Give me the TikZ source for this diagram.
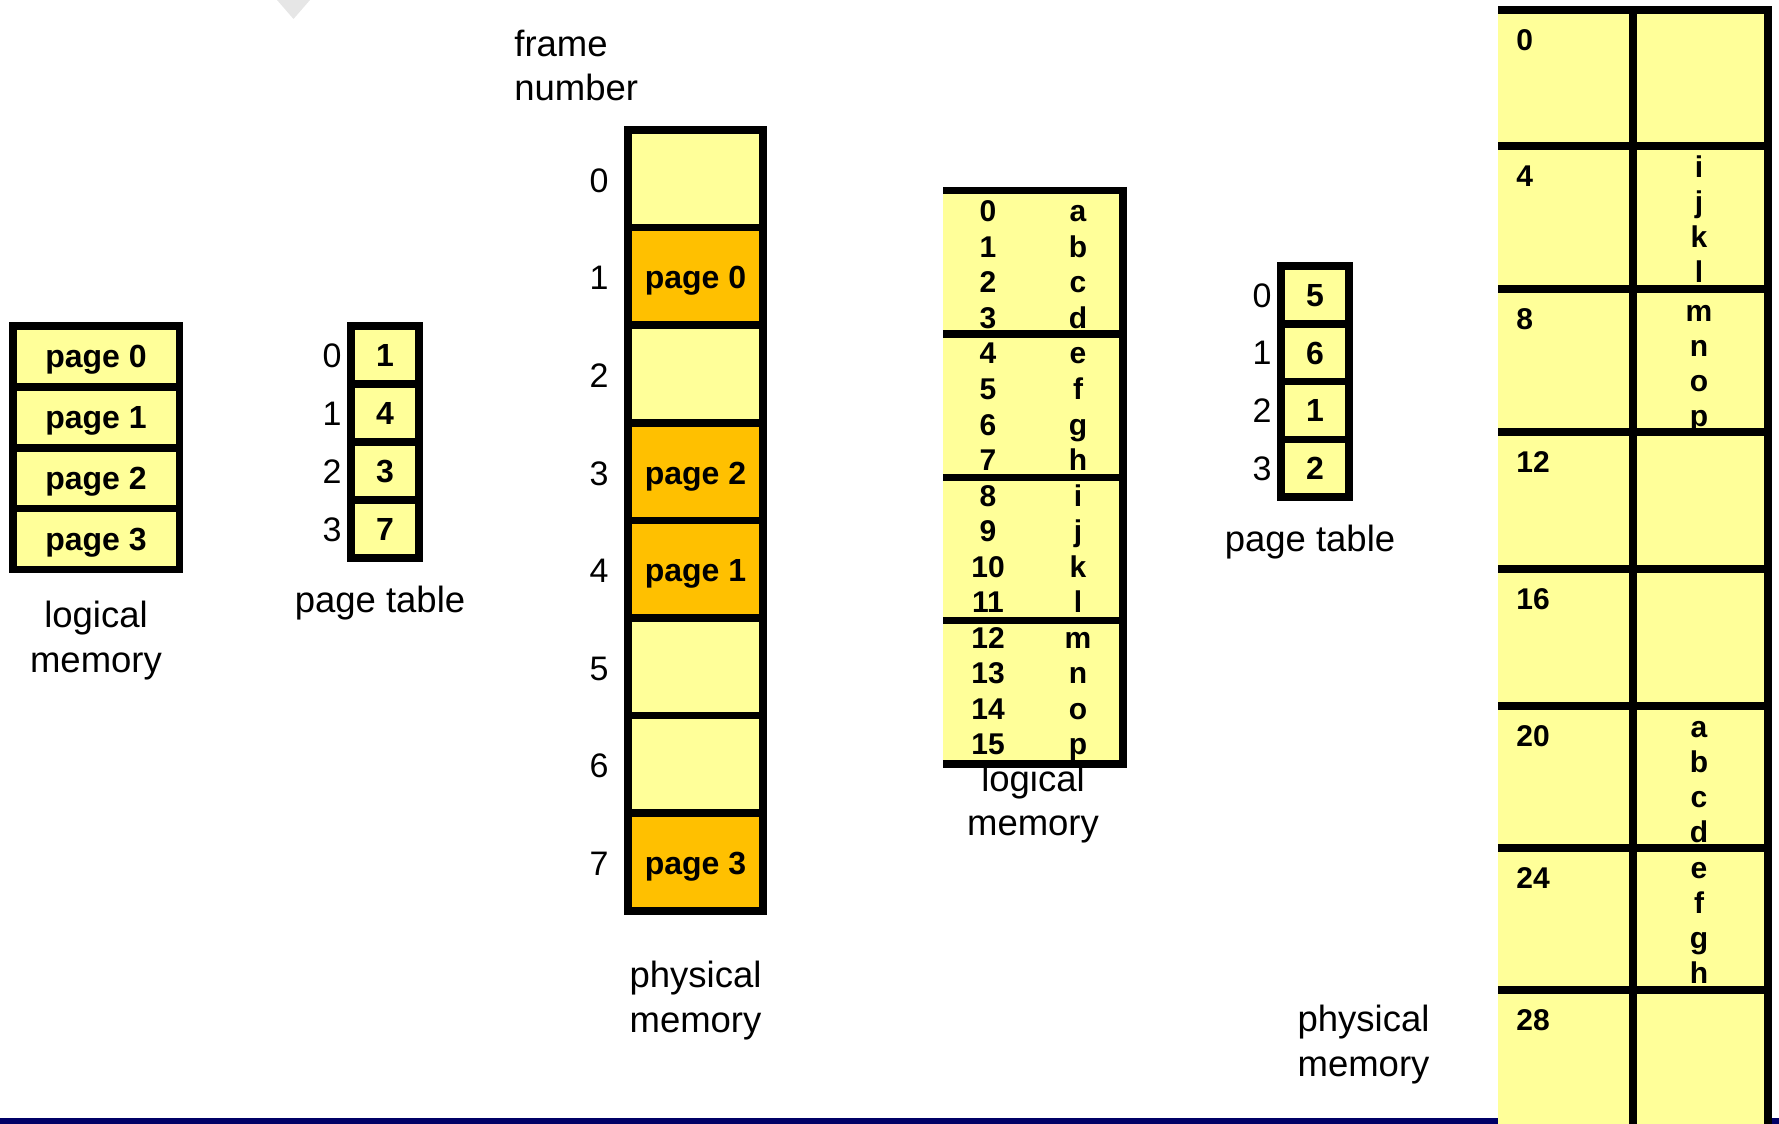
\documentclass[tikz,border=0pt]{standalone}
\usepackage{fontspec}
\setmainfont{Liberation Sans}
\definecolor{memyellow}{HTML}{FFFF99}
\definecolor{memorange}{HTML}{FFC000}
\definecolor{slideblue}{HTML}{000066}
\definecolor{trigray}{HTML}{E6E6E6}
\tikzset{
  cellbox/.style={draw=black, line width=3.75pt, fill=memyellow},
  thickline/.style={draw=black, line width=3.75pt},
  bigbold/.style={font=\bfseries\fontsize{16}{19}\selectfont, inner sep=0pt, anchor=base},
  listbold/.style={font=\bfseries\fontsize{15}{18}\selectfont, inner sep=0pt, anchor=base},
  idx/.style={font=\fontsize{17}{20}\selectfont, inner sep=0pt, anchor=base},
  lbl/.style={font=\fontsize{18.25}{22.25}\selectfont, inner sep=0pt, align=center, anchor=north},
}
\begin{document}
\begin{tikzpicture}[x=0.5pt,y=-0.5pt]
\useasboundingbox (0,0) rectangle (1779,1124);
% slide decorations
\fill[slideblue] (0,1118) rectangle (1779,1124);
\fill[trigray] (277,0) -- (310,0) -- (293.5,19) -- cycle;

% ---------- left example: logical memory ----------
\foreach \i in {0,...,3} {
  \draw[cellbox] (12.75,{326+60.875*\i}) rectangle (179.25,{326+60.875*(\i+1)});
  \node[bigbold] (lp\i) at (96,{326+60.875*(\i+0.5)+11.5}) {page \i};
}
\node[lbl] (lmlabel) at (96,600.9) {logical\\memory};

% ---------- left example: page table ----------
\foreach \v [count=\i from 0] in {1,4,3,7} {
  \draw[cellbox] (351,{326+58*\i}) rectangle (419,{326+58*(\i+1)});
  \node[bigbold] (pt\i) at (385,{326+58*(\i+0.5)+11.5}) {\v};
  \node[idx] (pti\i) at (332,{326+58*(\i+0.5)+12.2}) {\i};
}
\node[lbl] (ptlabel) at (380,585.5) {page table};

% ---------- left example: physical memory ----------
\node[lbl, align=left, anchor=north west] (fnlabel) at (514,29.5) {frame\\number};
\foreach \c [count=\i from 0] in {memyellow,memorange,memyellow,memorange,memorange,memyellow,memyellow,memorange} {
  \draw[cellbox, fill=\c] (628,{130+97.6*\i}) rectangle (763,{130+97.6*(\i+1)});
  \node[idx] (fn\i) at (599,{130+97.6*(\i+0.5)+13.5}) {\i};
}
\node[bigbold] (pf1) at (695.5,{130+97.6*1.5+12.5}) {page 0};
\node[bigbold] (pf3) at (695.5,{130+97.6*3.5+12.5}) {page 2};
\node[bigbold] (pf4) at (695.5,{130+97.6*4.5+12.5}) {page 1};
\node[bigbold] (pf7) at (695.5,{130+97.6*7.5+12.5}) {page 3};
\node[lbl] (pmlabel) at (695.5,961) {physical\\memory};

% ---------- right example: logical memory ----------
\fill[memyellow] (943,190.5) rectangle (1123,764.1);
\foreach \i in {0,...,4} {
  \draw[thickline] (943,{190.5+143.4*\i}) -- (1126.75,{190.5+143.4*\i});
}
\draw[thickline] (1123,186.75) -- (1123,767.85);
\foreach \l [count=\k from 0] in {a,b,c,d,e,f,g,h,i,j,k,l,m,n,o,p} {
  \node[listbold] (ln\k) at (988,{211+35.55*\k+10.7}) {\k};
  \node[listbold] (ll\k) at (1078,{211+35.55*\k+10.7}) {\l};
}
\node[lbl] (lm2label) at (1033,764.5) {logical\\memory};

% ---------- right example: page table ----------
\foreach \v [count=\i from 0] in {5,6,1,2} {
  \draw[cellbox] (1281,{266+57.75*\i}) rectangle (1349,{266+57.75*(\i+1)});
  \node[bigbold] (qt\i) at (1315,{266+57.75*(\i+0.5)+11.5}) {\v};
  \node[idx] (qti\i) at (1262,{266+57.75*(\i+0.5)+12.2}) {\i};
}
\node[lbl] (pt2label) at (1310,525) {page table};

% ---------- right example: physical memory ----------
\fill[memyellow] (1498,10) rectangle (1768,1124);
\foreach \y/\n in {10/0,146/4,289/8,432/12,569/16,706/20,848/24,990/28} {
  \draw[thickline] (1498,\y) -- (1771.75,\y);
  \node[listbold, anchor=base west] (fa\n) at (1516,{\y+30+10.7}) {\n};
}
\draw[thickline] (1633,6.25) -- (1633,1124);
\draw[thickline] (1768,6.25) -- (1768,1124);
\foreach \l [count=\k from 0] in {i,j,k,l} {
  \node[listbold] (pi\k) at (1699,{167+35*\k+10.7}) {\l};
}
\foreach \l [count=\k from 0] in {m,n,o,p} {
  \node[listbold] (pm\k) at (1699,{310.5+35*\k+10.7}) {\l};
}
\foreach \l [count=\k from 0] in {a,b,c,d} {
  \node[listbold] (pa\k) at (1699,{726.5+35*\k+10.7}) {\l};
}
\foreach \l [count=\k from 0] in {e,f,g,h} {
  \node[listbold] (pe\k) at (1699,{868+35*\k+10.7}) {\l};
}
\node[lbl] (pm2label) at (1363.5,1005) {physical\\memory};
\end{tikzpicture}
\end{document}
